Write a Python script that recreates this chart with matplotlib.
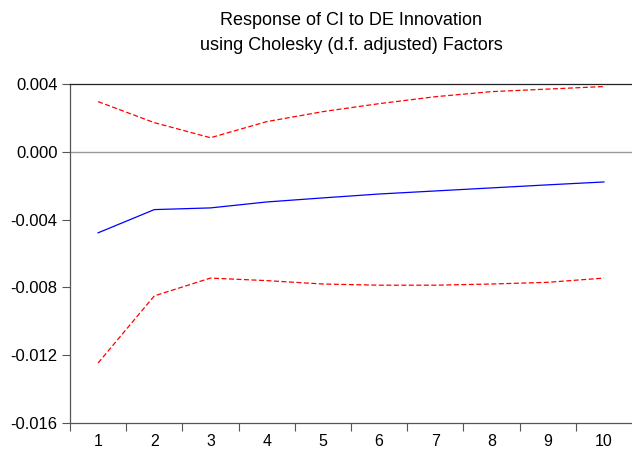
import matplotlib
matplotlib.use("Agg")
import matplotlib.pyplot as plt
from matplotlib.ticker import FixedLocator

periods = [1, 2, 3, 4, 5, 6, 7, 8, 9, 10]
response = [-0.00478, -0.00341, -0.00331, -0.00296, -0.00272, -0.00249, -0.00231, -0.00213, -0.00195, -0.00178]
upper = [0.00296, 0.00172, 0.00083, 0.00178, 0.00237, 0.00284, 0.00325, 0.00355, 0.00370, 0.00385]
lower = [-0.01246, -0.00850, -0.00745, -0.00760, -0.00780, -0.00787, -0.00787, -0.00780, -0.00770, -0.00745]
yticks = [0.004, 0.000, -0.004, -0.008, -0.012, -0.016]
ytick_labels = ["0.004", "0.000", "-0.004", "-0.008", "-0.012", "-0.016"]
title = "Response of CI to DE Innovation\nusing Cholesky (d.f. adjusted) Factors"

plt.rcParams['font.family'] = ['Liberation Sans', 'DejaVu Sans']

fig = plt.figure(figsize=(6.32, 4.5), dpi=100)
ax = fig.add_axes([70/632, 27/450, 562/632, 339/450])

ax.axhline(0, color="#999999", lw=1.0, zorder=1)
ax.plot(periods, response, color="#0000ff", lw=0.9, zorder=3)
ax.plot(periods, upper, color="#ff0000", lw=0.9, ls=(0, (4, 2)), zorder=3)
ax.plot(periods, lower, color="#ff0000", lw=0.9, ls=(0, (4, 2)), zorder=3)

ax.set_xlim(0.5, 10.5)
ax.set_ylim(-0.016, 0.004)
ax.set_yticks(yticks)
ax.set_yticklabels(ytick_labels, fontsize=12)
ax.set_xticks(periods)
ax.set_xticklabels([str(p) for p in periods], fontsize=11.5)
ax.xaxis.set_minor_locator(FixedLocator([p - 0.5 for p in periods]))
ax.tick_params(axis='x', which='major', length=0, pad=8)
ax.tick_params(axis='x', which='minor', length=6, width=0.8, color="#555555", direction='out')
ax.tick_params(axis='y', length=6, width=0.8, color="#555555", direction='out', pad=3)

ax.spines['right'].set_visible(False)
for s in ['top', 'left', 'bottom']:
    ax.spines[s].set_linewidth(0.9)
ax.spines['top'].set_color("#222222")
ax.spines['left'].set_color("#555555")
ax.spines['bottom'].set_color("#555555")

fig.text(351/632, 1 - 33/450, title, ha='center', va='center', fontsize=13, linespacing=1.55)

fig.savefig("out.png", dpi=100)
